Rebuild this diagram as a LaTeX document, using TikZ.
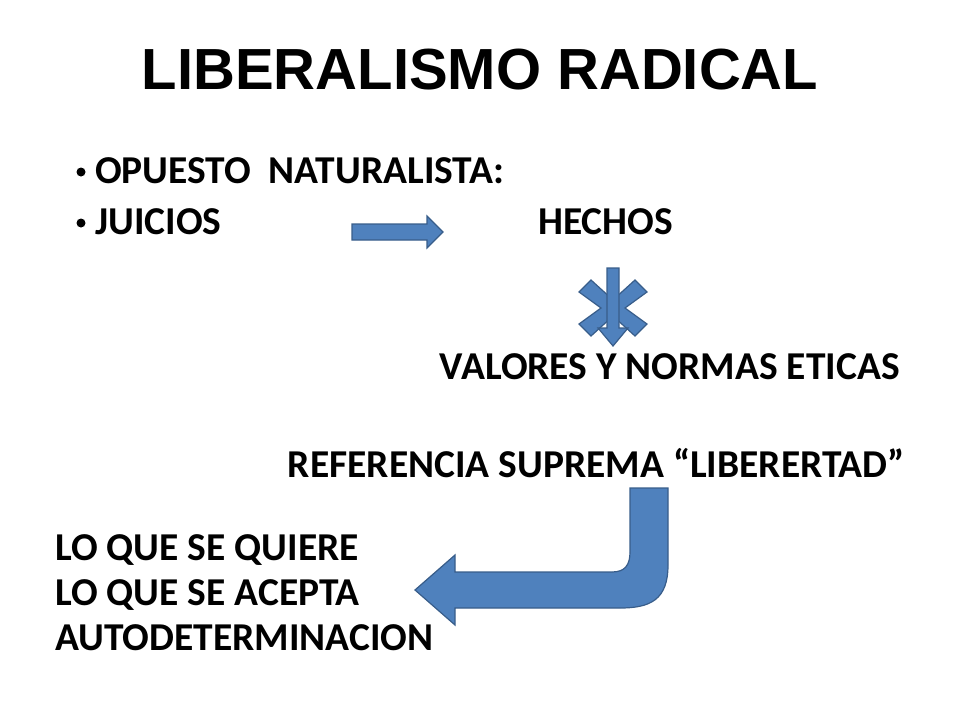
\documentclass[tikz,border=0pt]{standalone}
\usepackage{fontspec}
\setmainfont{Carlito}
\newfontfamily\titlefont{Liberation Sans}
\begin{document}
\begin{tikzpicture}[x=1pt,y=-1pt,
  shp/.style={fill={rgb,255:red,79;green,129;blue,189},draw={rgb,255:red,56;green,93;blue,138},line width=1.2pt},
  txt/.style={font=\bfseries\fontsize{39.5}{44}\selectfont,inner sep=0pt}]
\useasboundingbox (0,0) rectangle (960,720);
\node[font=\titlefont\bfseries\fontsize{58}{62}\selectfont] (title) at (480,70) {LIBERALISMO RADICAL};
\node[txt,anchor=west] (opuesto) at (95,171) {OPUESTO\ \ NATURALISTA:};
\node[txt,anchor=west] (juicios) at (95,222) {JUICIOS};
\node[txt,anchor=west] (hechos) at (538,222) {HECHOS};
\fill (81,172) circle (4.5) (81,223) circle (4.5);
% flecha horizontal
\draw[shp] (352,224) -- (427,224) -- (427,216) -- (443,232) -- (427,248) -- (427,240) -- (352,240) -- cycle;
% asterisco
\draw[shp] (591,280) -- (613,300) -- (635,280) -- (647,292) -- (625,308) -- (647,324) -- (635,336) -- (613,316) -- (591,336) -- (579,324) -- (601,308) -- (579,292) -- cycle;
\draw[shp] (607,268) -- (619,268) -- (619,328) -- (628,328) -- (613,346) -- (598,328) -- (607,328) -- cycle;
\node[txt,anchor=east] (valores) at (900,367) {VALORES Y NORMAS ETICAS};
\node[txt,anchor=east] (referencia) at (905,463) {REFERENCIA SUPREMA “LIBERERTAD”};
% flecha curva
\draw[shp] (668,488) -- (668,565) .. controls (668,600) and (650,608) .. (620,608) -- (455,608) -- (455,625) -- (415,590) -- (455,555) -- (455,572) -- (612,572) .. controls (625,572) and (630,565) .. (630,552) -- (630,488) -- cycle;
\node[txt,anchor=west] (quiere) at (55,550) {LO QUE SE QUIERE};
\node[txt,anchor=west] (acepta) at (55,595) {LO QUE SE ACEPTA};
\node[txt,anchor=west] (autodet) at (55,638) {AUTODETERMINACION};
\end{tikzpicture}
\end{document}
